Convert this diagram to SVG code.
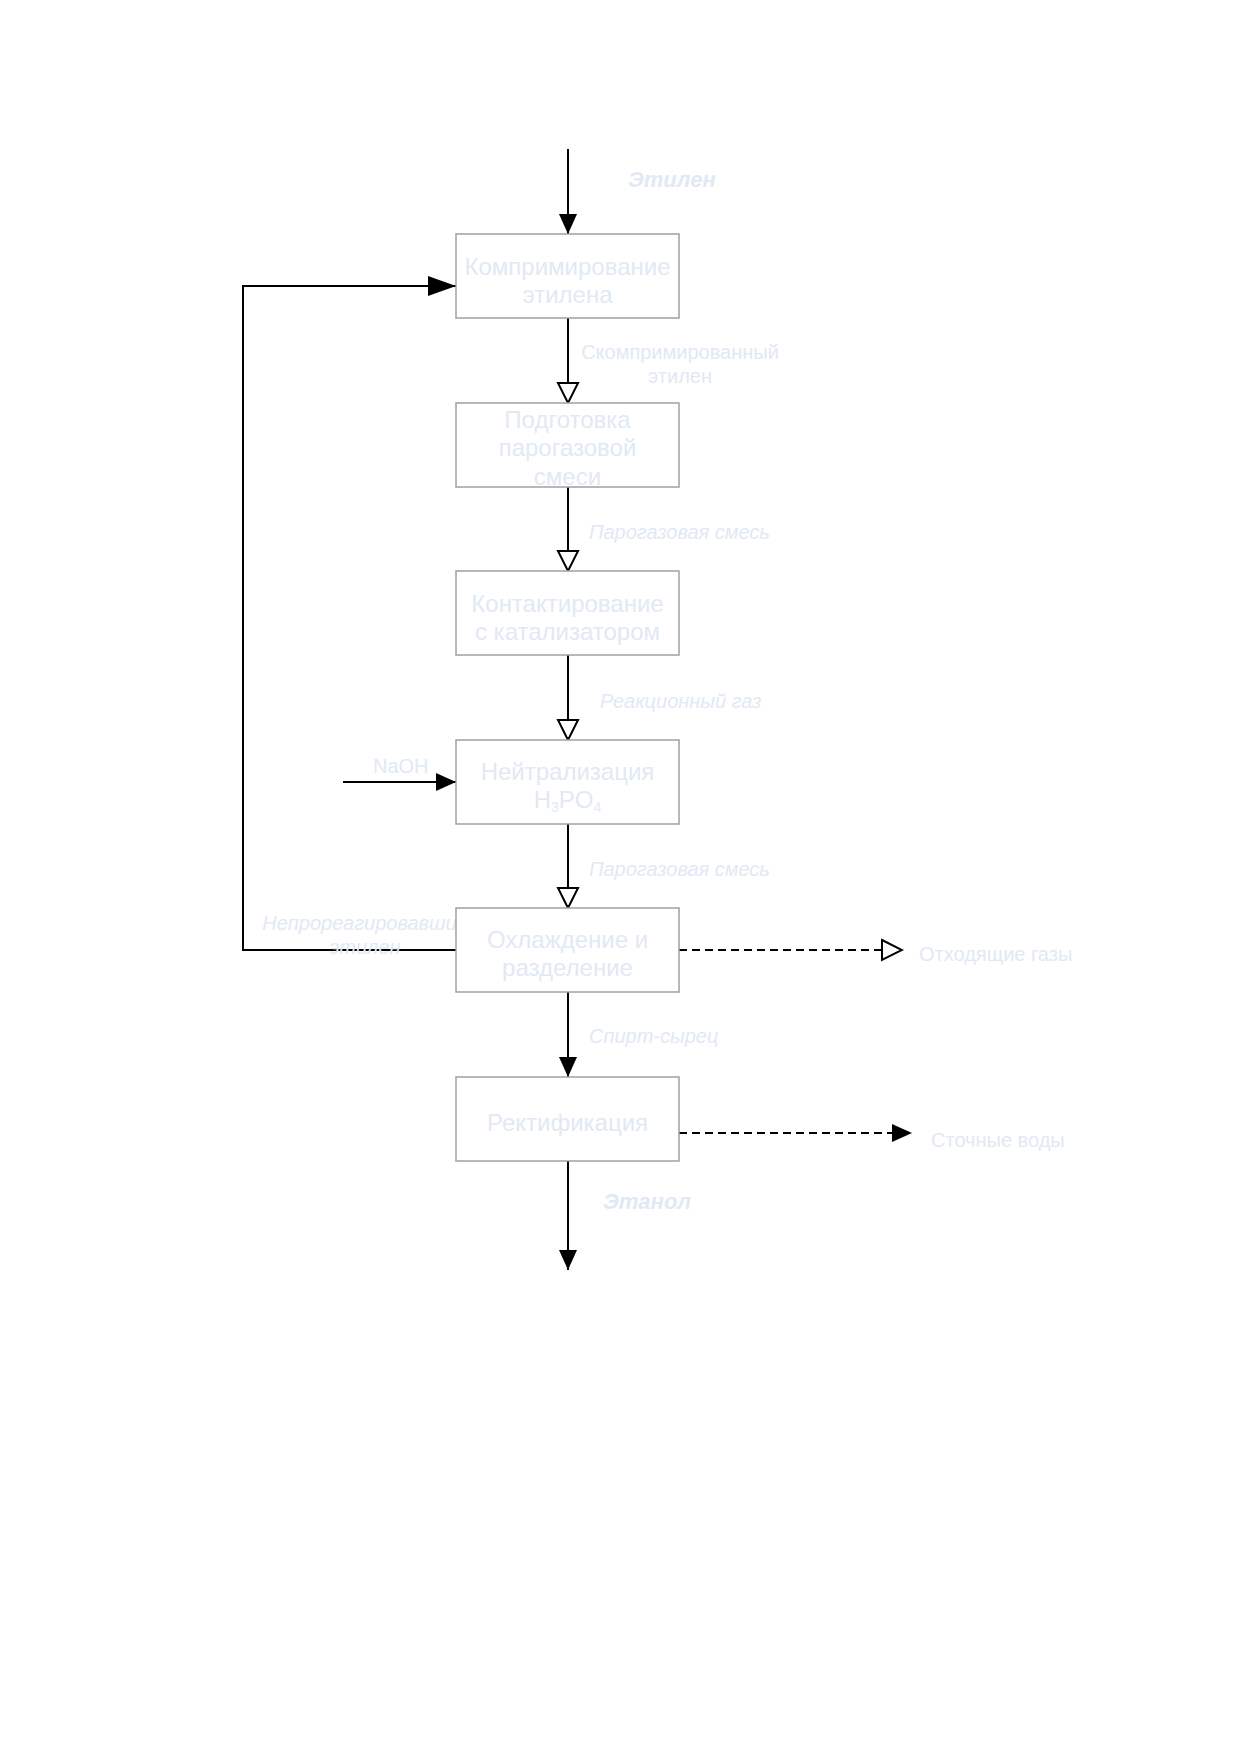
<svg xmlns="http://www.w3.org/2000/svg" width="1240" height="1754" viewBox="0 0 1240 1754">
<style>
.box{fill:#fff;stroke:#a0a0a0;stroke-width:1.5}
.bt{font-family:"Liberation Sans",Arial,sans-serif;font-size:24px;fill:#e1e9f5;text-anchor:middle}
.lb{font-family:"Liberation Sans",Arial,sans-serif;font-size:20px;fill:#e1e9f5}
.it{font-style:italic}
.bi{font-family:"Liberation Sans",Arial,sans-serif;font-size:22px;font-weight:bold;font-style:italic;fill:#e1e9f5}
.ln{fill:none;stroke:#000;stroke-width:2}
.dash{stroke-dasharray:8,5}
</style>
<defs>
<marker id="fill" markerUnits="userSpaceOnUse" markerWidth="20" markerHeight="18" refX="20" refY="9" orient="auto"><path d="M0,0 L20,9 L0,18 Z" fill="#000"/></marker>
<marker id="big" markerUnits="userSpaceOnUse" markerWidth="28" markerHeight="20" refX="28" refY="10" orient="auto"><path d="M0,0 L28,10 L0,20 Z" fill="#000"/></marker>
<marker id="open" markerUnits="userSpaceOnUse" markerWidth="24" markerHeight="24" viewBox="-2 -2 24 24" refX="20" refY="10" orient="auto"><path d="M0,0 L20,10 L0,20 Z" fill="#fff" stroke="#000" stroke-width="2"/></marker>
</defs>
<rect width="1240" height="1754" fill="#fff"/>
<g id="connectors">
<path class="ln" d="M568,149 V234" marker-end="url(#fill)"/>
<path class="ln" d="M568,318 V403" marker-end="url(#open)"/>
<path class="ln" d="M568,487 V571" marker-end="url(#open)"/>
<path class="ln" d="M568,655 V740" marker-end="url(#open)"/>
<path class="ln" d="M568,824 V908" marker-end="url(#open)"/>
<path class="ln" d="M568,992 V1077" marker-end="url(#fill)"/>
<path class="ln" d="M568,1161 V1270" marker-end="url(#fill)"/>
<path class="ln" d="M456,950 H243 V286 H456" marker-end="url(#big)"/>
<path class="ln" d="M343,782 H456" marker-end="url(#fill)"/>
<path class="ln dash" d="M679,950 H902" marker-end="url(#open)"/>
<path class="ln dash" d="M679,1133 H912" marker-end="url(#fill)"/>
</g>
<g id="labels">
<text class="bi" x="628" y="187">Этилен</text>
<text class="lb" x="680" y="359" text-anchor="middle">Скомпримированный</text>
<text class="lb" x="680" y="383" text-anchor="middle">этилен</text>
<text class="lb it" x="589" y="539">Парогазовая смесь</text>
<text class="lb it" x="600" y="708">Реакционный газ</text>
<text class="lb it" x="589" y="876">Парогазовая смесь</text>
<text class="lb it" x="589" y="1043">Спирт-сырец</text>
<text class="lb" x="373" y="773">NaOH</text>
<text class="lb it" x="365" y="930" text-anchor="middle">Непрореагировавший</text>
<text class="lb it" x="365" y="954" text-anchor="middle">этилен</text>
<text class="lb" x="919" y="961">Отходящие газы</text>
<text class="lb" x="931" y="1147">Сточные воды</text>
<text class="bi" x="603" y="1209">Этанол</text>
</g>
<g id="n1"><rect class="box" x="456" y="234" width="223" height="84"/><text class="bt" x="567.5" y="275">Компримирование</text><text class="bt" x="567.5" y="303">этилена</text></g>
<g id="n2"><rect class="box" x="456" y="403" width="223" height="84"/><text class="bt" x="567.5" y="428">Подготовка</text><text class="bt" x="567.5" y="456">парогазовой</text><text class="bt" x="567.5" y="485">смеси</text></g>
<g id="n3"><rect class="box" x="456" y="571" width="223" height="84"/><text class="bt" x="567.5" y="612">Контактирование</text><text class="bt" x="567.5" y="640">с катализатором</text></g>
<g id="n4"><rect class="box" x="456" y="740" width="223" height="84"/><text class="bt" x="567.5" y="780">Нейтрализация</text><text class="bt" x="567.5" y="808">H<tspan font-size="14" dy="4">3</tspan><tspan dy="-4">PO</tspan><tspan font-size="14" dy="4">4</tspan></text></g>
<g id="n5"><rect class="box" x="456" y="908" width="223" height="84"/><text class="bt" x="567.5" y="948">Охлаждение и</text><text class="bt" x="567.5" y="976">разделение</text></g>
<g id="n6"><rect class="box" x="456" y="1077" width="223" height="84"/><text class="bt" x="567.5" y="1131">Ректификация</text></g>
</svg>
